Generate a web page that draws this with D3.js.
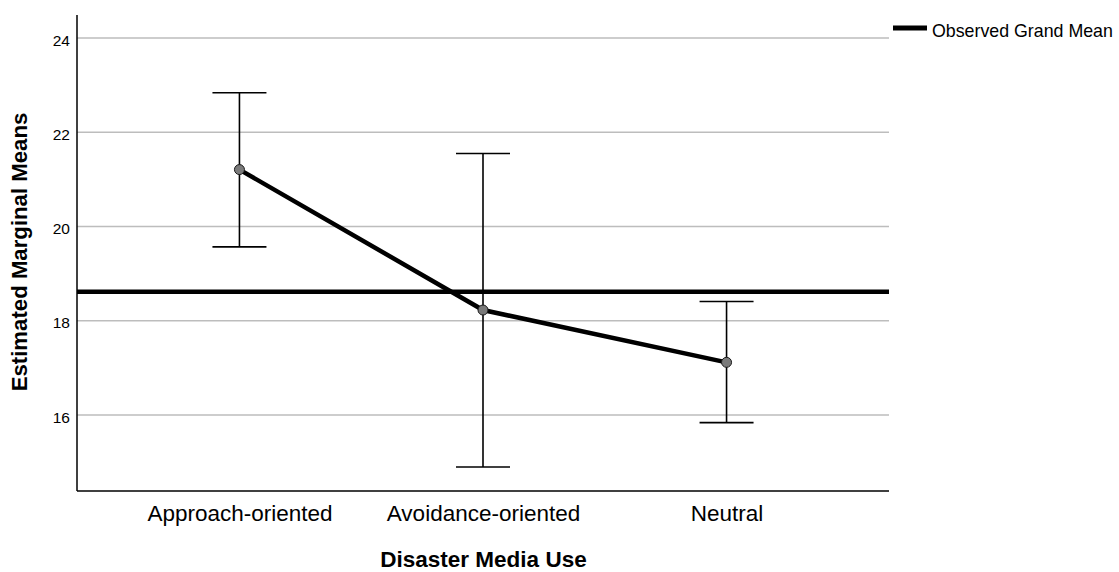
<!DOCTYPE html>
<html>
<head>
<meta charset="utf-8">
<script src="https://cdn.jsdelivr.net/npm/d3@7"></script>
<style>
  body { margin: 0; background: #fff; }
  svg { font-family: 'Liberation Sans', Arial, sans-serif; }
</style>
</head>
<body>
<svg width="1119" height="572"></svg>
<script>
// estimated marginal means
const categories = ['Approach-oriented', 'Avoidance-oriented', 'Neutral']
const means = [21.21, 18.23, 17.12]
const upper = [22.84, 21.55, 18.41]
const lower = [19.57, 14.90, 15.84]
const grandMean = 18.62
const yTicks = [16, 18, 20, 22, 24]

const plotLeft = 77
const plotRight = 889
const plotTop = 15
const plotBottom = 491

const svg = d3.select('svg')

const x = d3.scalePoint().domain(categories).range([plotLeft, plotRight]).padding(0.667)
const y = d3.scaleLinear().domain([14.39, 24.49]).range([plotBottom, plotTop])

// grid lines
svg.append('g')
    .selectAll('line')
    .data(yTicks)
    .join('line')
    .attr('x1', plotLeft)
    .attr('x2', plotRight)
    .attr('y1', (d) => y(d))
    .attr('y2', (d) => y(d))
    .attr('stroke', '#bdbdbd')
    .attr('stroke-width', 1.5)

// axes without tick marks
const yAxis = svg.append('g')
    .attr('transform', `translate(${plotLeft},0)`)
    .call(d3.axisLeft(y).tickValues(yTicks).tickSize(0).tickPadding(7))
yAxis.select('.domain').remove()
yAxis.selectAll('text')
    .attr('font-size', 15.5)
    .attr('fill', '#000')
    .attr('font-family', 'Liberation Sans')
    .attr('dy', '0.45em')

const xAxis = svg.append('g')
    .attr('transform', `translate(0,${plotBottom})`)
    .call(d3.axisBottom(x).tickSize(0).tickPadding(14))
xAxis.select('.domain').remove()
xAxis.selectAll('text').attr('font-size', 22.5).attr('fill', '#000').attr('font-family', 'Liberation Sans')

svg.append('line')
    .attr('x1', plotLeft).attr('x2', plotLeft).attr('y1', plotTop).attr('y2', plotBottom)
    .attr('stroke', '#000').attr('stroke-width', 1.5)
svg.append('line')
    .attr('x1', plotLeft).attr('x2', plotRight).attr('y1', plotBottom).attr('y2', plotBottom)
    .attr('stroke', '#000').attr('stroke-width', 1.5)

// grand mean
svg.append('line')
    .attr('x1', plotLeft).attr('x2', plotRight)
    .attr('y1', y(grandMean)).attr('y2', y(grandMean))
    .attr('stroke', '#000').attr('stroke-width', 4.5)

// error bars
const rows = categories.map((c, i) => ({ c, m: means[i], hi: upper[i], lo: lower[i] }))
const cap = 27
const eb = svg.append('g').attr('stroke', '#000').attr('stroke-width', 1.6)
eb.selectAll('line.v').data(rows).join('line').attr('class', 'v')
    .attr('x1', (d) => x(d.c)).attr('x2', (d) => x(d.c))
    .attr('y1', (d) => y(d.hi)).attr('y2', (d) => y(d.lo))
eb.selectAll('line.hi').data(rows).join('line').attr('class', 'hi')
    .attr('x1', (d) => x(d.c) - cap).attr('x2', (d) => x(d.c) + cap)
    .attr('y1', (d) => y(d.hi)).attr('y2', (d) => y(d.hi))
eb.selectAll('line.lo').data(rows).join('line').attr('class', 'lo')
    .attr('x1', (d) => x(d.c) - cap).attr('x2', (d) => x(d.c) + cap)
    .attr('y1', (d) => y(d.lo)).attr('y2', (d) => y(d.lo))

// means line
svg.append('path')
    .datum(rows)
    .attr('fill', 'none')
    .attr('stroke', '#000')
    .attr('stroke-width', 4.5)
    .attr('d', d3.line().x((d) => x(d.c)).y((d) => y(d.m)))

svg.append('g')
    .selectAll('circle')
    .data(rows)
    .join('circle')
    .attr('cx', (d) => x(d.c))
    .attr('cy', (d) => y(d.m))
    .attr('r', 5)
    .attr('fill', '#7a7a7a')
    .attr('stroke', '#1a1a1a')
    .attr('stroke-width', 1)

// axis titles
svg.append('text')
    .attr('x', 483.5)
    .attr('y', 567)
    .attr('text-anchor', 'middle')
    .attr('font-size', 22.5)
    .attr('font-weight', 'bold')
    .text('Disaster Media Use')

svg.append('text')
    .attr('transform', 'translate(27,252) rotate(-90)')
    .attr('text-anchor', 'middle')
    .attr('font-size', 22.2)
    .attr('font-weight', 'bold')
    .text('Estimated Marginal Means')

// legend
const legend = svg.append('g').attr('transform', 'translate(893,28)')
legend.append('line').attr('x1', 0).attr('x2', 34).attr('y1', 0).attr('y2', 0)
    .attr('stroke', '#000').attr('stroke-width', 5)
legend.append('text').attr('x', 39).attr('y', 8.5).attr('font-size', 17.8).text('Observed Grand Mean')
</script>
</body>
</html>
